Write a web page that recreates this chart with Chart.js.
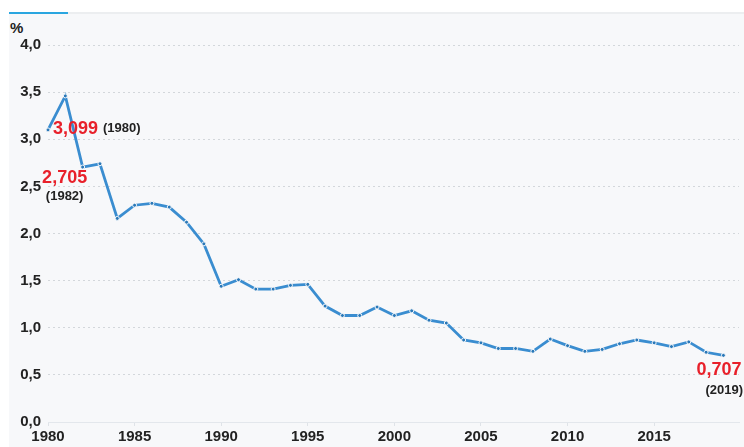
<!DOCTYPE html>
<html lang="en">
<head>
  <meta charset="UTF-8">
  <title>Rate 1980-2019</title>
  <script src="https://cdn.jsdelivr.net/npm/chart.js"></script>
  <style>
    html, body { margin: 0; padding: 0; background: #fff; overflow: hidden; }
    #wrap { position: relative; width: 744px; height: 447px; }
    #panel { position: absolute; left: 9px; top: 12px; right: 0; bottom: 0; background: #f7f8fa; border-top: 2px solid #eceef0; }
    #tab { position: absolute; left: 9px; top: 12px; width: 59px; height: 2px; background: #2aa6e0; }
    #unit { position: absolute; left: 10px; top: 19px; font: bold 15px "Liberation Sans", Arial, sans-serif; color: #222; }
    canvas { position: absolute; left: 0; top: 0; }
  </style>
</head>
<body>
  <div id="wrap">
    <div id="panel"></div>
    <div id="tab"></div>
    <div id="unit">%</div>
    <canvas id="rateChart" width="744" height="447"></canvas>
  </div>

  <script>
    const years = [1980, 1981, 1982, 1983, 1984, 1985, 1986, 1987, 1988, 1989,
      1990, 1991, 1992, 1993, 1994, 1995, 1996, 1997, 1998, 1999,
      2000, 2001, 2002, 2003, 2004, 2005, 2006, 2007, 2008, 2009,
      2010, 2011, 2012, 2013, 2014, 2015, 2016, 2017, 2018, 2019];
    const rates = [3.099, 3.46, 2.705, 2.74, 2.16, 2.30, 2.32, 2.28, 2.12, 1.89,
      1.44, 1.51, 1.41, 1.41, 1.45, 1.46, 1.23, 1.13, 1.13, 1.22,
      1.13, 1.18, 1.08, 1.05, 0.87, 0.84, 0.78, 0.78, 0.75, 0.88,
      0.81, 0.75, 0.77, 0.83, 0.87, 0.84, 0.80, 0.85, 0.74, 0.707];
    const xTicks = [1980, 1985, 1990, 1995, 2000, 2005, 2010, 2015];
    const yTicks = [0, 0.5, 1, 1.5, 2, 2.5, 3, 3.5, 4];

    // highlighted points: year, value text, year text
    const noteYears = [1980, 1982, 2019];
    const noteValues = ['3,099', '2,705', '0,707'];
    const noteLabels = ['(1980)', '(1982)', '(2019)'];

    const fmt = v => v.toFixed(1).replace('.', ',');
    const tickFont = { family: '"Liberation Sans", Arial, sans-serif', weight: 'bold', size: 15 };
    const bigFont = 'bold 18px "Liberation Sans", Arial, sans-serif';
    const smallFont = 'bold 13px "Liberation Sans", Arial, sans-serif';

    const notesPlugin = {
      id: 'notes',
      afterDatasetsDraw(chart) {
        const { ctx, scales: { x, y } } = chart;
        ctx.save();
        ctx.textBaseline = 'middle';
        noteYears.forEach((yr, i) => {
          const px = x.getPixelForValue(yr);
          const py = y.getPixelForValue(rates[years.indexOf(yr)]);
          if (i === 0) {
            ctx.textAlign = 'left';
            ctx.font = bigFont;
            ctx.fillStyle = '#e8202a';
            ctx.fillText(noteValues[i], px + 5, py - 1);
            const w = ctx.measureText(noteValues[i]).width;
            ctx.font = smallFont;
            ctx.fillStyle = '#222';
            ctx.fillText(noteLabels[i], px + 5 + w + 5, py - 1);
          } else if (i === 1) {
            ctx.textAlign = 'center';
            ctx.font = bigFont;
            ctx.fillStyle = '#e8202a';
            ctx.fillText(noteValues[i], px - 18, py + 11);
            ctx.font = smallFont;
            ctx.fillStyle = '#222';
            ctx.fillText(noteLabels[i], px - 18, py + 29);
          } else {
            ctx.textAlign = 'left';
            ctx.font = bigFont;
            ctx.fillStyle = '#e8202a';
            ctx.fillText(noteValues[i], px - 27, py + 15);
            ctx.font = smallFont;
            ctx.fillStyle = '#222';
            ctx.fillText(noteLabels[i], px - 18, py + 35);
          }
        });
        ctx.restore();
      }
    };

    const ctx = document.getElementById('rateChart').getContext('2d');

    const rateChart = new Chart(ctx, {
      type: 'line',
      data: {
        datasets: [{
          data: years.map((yr, i) => ({ x: yr, y: rates[i] })),
          borderColor: '#3a8dd0',
          borderWidth: 2.8,
          pointRadius: 2,
          pointBorderWidth: 1,
          pointBackgroundColor: '#2a78b8',
          pointBorderColor: '#f7f8fa',
          tension: 0,
          clip: false
        }]
      },
      options: {
        responsive: false,
        animation: false,
        layout: { padding: { top: 45, right: 0, left: 0, bottom: 0 } },
        plugins: { legend: { display: false }, tooltip: { enabled: false } },
        scales: {
          x: {
            type: 'linear',
            min: 1980,
            max: 2019.9,
            afterBuildTicks: s => { s.ticks = xTicks.map(v => ({ value: v })); },
            afterFit: s => { s.height = 25; },
            grid: { drawOnChartArea: false, drawTicks: true, tickLength: 4, color: '#dfe3e8' },
            border: { display: true, color: '#e3e7ec', width: 1 },
            ticks: { color: '#222', font: tickFont, padding: 2, maxRotation: 0, callback: v => String(v) }
          },
          y: {
            min: 0,
            max: 4,
            afterBuildTicks: s => { s.ticks = yTicks.map(v => ({ value: v })); },
            afterFit: s => { s.width = 48; },
            grid: { drawTicks: false, color: '#d3d7db', lineWidth: 1 },
            border: { display: false, dash: [2, 3] },
            ticks: { color: '#222', font: tickFont, padding: 7, callback: v => fmt(v) }
          }
        }
      },
      plugins: [notesPlugin]
    });
  </script>
</body>
</html>
